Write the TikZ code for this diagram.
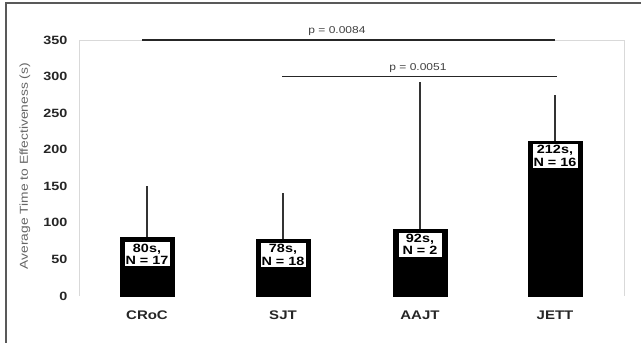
\documentclass[tikz,border=0pt]{standalone}
\usepackage{fontspec}
\setmainfont{Liberation Sans}[FakeStretch=1.2]
\usetikzlibrary{calc}
\definecolor{framegray}{rgb}{0.35,0.35,0.35}
\definecolor{titlegray}{rgb}{0.4,0.4,0.4}

\begin{document}
\begin{tikzpicture}[x=1pt,y=1pt]
\tikzset{bar/.style={fill=black,draw=black}}
\tikzset{errbar/.style={draw=black!80,line width=1.2pt}}
\tikzset{valbox/.style={draw=black,fill=white,inner xsep=1.5pt,inner ysep=2pt,align=center,
    minimum width=44pt,font=\bfseries\fontsize{12}{12.5}\selectfont}}
\tikzset{ticklabel/.style={anchor=east,font=\bfseries\fontsize{12}{14}\selectfont,text=black!85}}
\tikzset{catlabel/.style={font=\bfseries\fontsize{12.5}{14}\selectfont,text=black!85}}
\tikzset{plabel/.style={font=\fontsize{10}{11}\selectfont,text=black!75}}

\useasboundingbox (0,0) rectangle (641,343);

%% Frame
\draw[framegray, line width=1.4pt] (6,0) -- (6,340) -- (641,340);

%% Plot area
\draw[black!15, line width=0.8pt] (79,47) -- (79,303) -- (624,303) -- (624,47);

\begin{scope}[shift={(0,47)}, y=0.7314pt]
    \foreach \v in {0,50,...,350}
        \node[ticklabel] (tick\v) at (71,\v) {\v};

    \node[rotate=90, text=titlegray, font=\fontsize{11.5}{13}\selectfont] (ytitle) at (25,177.5)
        {Average Time to Effectiveness (s)};

    %% Bars
    \fill[bar] (120,0) rectangle (174,80);
    \fill[bar] (256,0) rectangle (310,78);
    \fill[bar] (393,0) rectangle (447,92);
    \fill[bar] (528,0) rectangle (582,212);

    \coordinate (croc top) at (147,80);
    \coordinate (sjt top) at (283,78);
    \coordinate (aajt top) at (420,92);
    \coordinate (jett top) at (555,212);

    \coordinate (croc err) at (147,150);
    \coordinate (sjt err) at (283,141);
    \coordinate (aajt err) at (420,293);
    \coordinate (jett err) at (555,275);

    \draw[errbar] (croc top) -- (croc err);
    \draw[errbar] (sjt top) -- (sjt err);
    \draw[errbar] (aajt top) -- (aajt err);
    \draw[errbar] (jett top) -- (jett err);

    \node[valbox, anchor=north] (croc box) at ($(croc top)+(0,-4pt)$) {80s,\\N = 17};
    \node[valbox, anchor=north] (sjt box) at ($(sjt top)+(0,-3pt)$) {78s,\\N = 18};
    \node[valbox, anchor=north] (aajt box) at ($(aajt top)+(0,-3pt)$) {92s,\\N = 2};
    \node[valbox, anchor=north] (jett box) at ($(jett top)+(0,-2pt)$) {212s,\\N = 16};

    \node[catlabel] (croc) at (147,-26) {CRoC};
    \node[catlabel] (sjt) at (283,-26) {SJT};
    \node[catlabel] (aajt) at (420,-26) {AAJT};
    \node[catlabel] (jett) at (555,-26) {JETT};

    %% Significance lines
    \coordinate (p1 left) at (142,350);
    \coordinate (p1 right) at (555,350);
    \coordinate (p2 left) at (282,300);
    \coordinate (p2 right) at (557,300);
    \draw[black!85, line width=1.2pt] (p1 left) -- (p1 right);
    \draw[black!85, line width=1.2pt] (p2 left) -- (p2 right);
    \node[plabel] (p1) at (337,362.5) {p = 0.0084};
    \node[plabel] (p2) at (418,311.5) {p = 0.0051};
\end{scope}

\end{tikzpicture}
\end{document}
